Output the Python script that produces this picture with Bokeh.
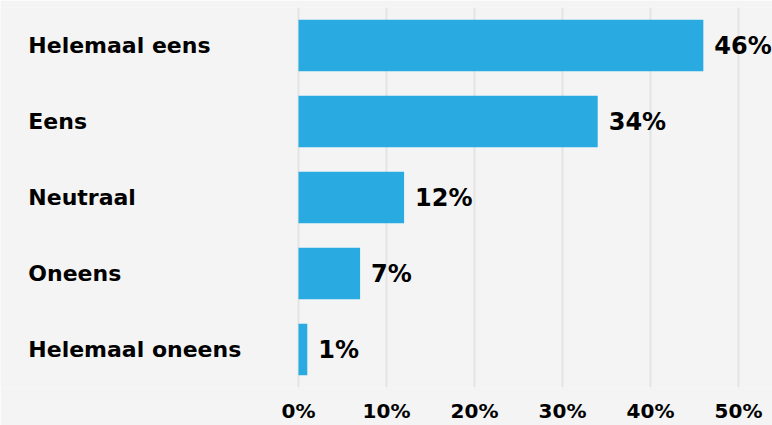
from bokeh.plotting import figure
from bokeh.models import ColumnDataSource, FactorRange, Range1d, FixedTicker
from bokeh.core.properties import value
from bokeh.embed import file_html
from bokeh.resources import INLINE

categories = ["Helemaal eens", "Eens", "Neutraal", "Oneens", "Helemaal oneens"]
values = [46, 34, 12, 7, 1]
value_labels = ["46%", "34%", "12%", "7%", "1%"]
ticks = [0, 10, 20, 30, 40, 50]
tick_labels = ["0%", "10%", "20%", "30%", "40%", "50%"]

FONT = "DejaVu Sans"
BG = "#f4f4f4"

src = ColumnDataSource(dict(cat=categories, val=values, lab=value_labels))

p = figure(width=772, height=425, output_backend="svg", toolbar_location=None,
           y_range=FactorRange(*reversed(categories)),
           x_range=Range1d(-33.86, 53.86),
           min_border_left=0, min_border_right=0, min_border_top=7, min_border_bottom=35)
p.background_fill_color = BG
p.border_fill_color = BG
p.outline_line_color = None

p.hbar(y="cat", right="val", left=0, height=0.68, source=src, color="#29abe2", line_color=None)

p.text(x="val", y="cat", text="lab", source=src, x_offset=11, text_align="left",
       text_baseline="middle", text_font=value(FONT), text_font_style="bold",
       text_font_size="24px", text_color="#000000")

p.text(x=-30.7, y="cat", text="cat", source=src, text_align="left",
       text_baseline="middle", text_font=value(FONT), text_font_style="bold",
       text_font_size="22px", text_color="#000000")

p.yaxis.visible = False
p.ygrid.grid_line_color = None
p.xgrid.grid_line_color = "#e4e4e4"
p.xgrid.grid_line_width = 2
p.xaxis.ticker = FixedTicker(ticks=ticks)
p.xaxis.major_label_overrides = {t: l for t, l in zip(ticks, tick_labels)}
p.xaxis.axis_line_color = None
p.xaxis.major_tick_line_color = None
p.xaxis.minor_tick_line_color = None
p.xaxis.major_tick_in = 0
p.xaxis.major_tick_out = 0
p.xaxis.major_label_standoff = 11
p.xaxis.major_label_text_font = FONT
p.xaxis.major_label_text_font_style = "bold"
p.xaxis.major_label_text_font_size = "20px"
p.xaxis.major_label_text_color = "#000000"

open("out.html", "w").write(file_html(p, INLINE))
